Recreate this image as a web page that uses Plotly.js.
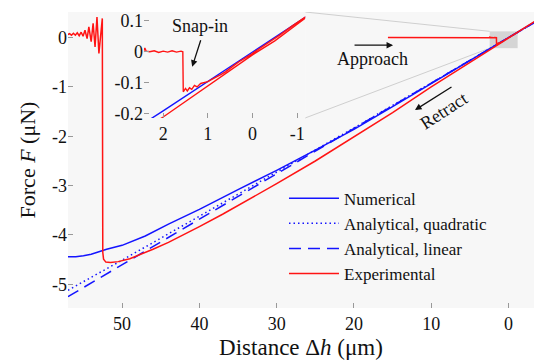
<!DOCTYPE html>
<html>
<head>
<meta charset="utf-8">
<script src="https://cdn.plot.ly/plotly-3.0.1.min.js"></script>
<style>html,body{margin:0;padding:0;background:#fff;}#chart{width:534px;height:361px;}</style>
</head>
<body>
<div id="chart"></div>
<script>
// ---- Data ----
// Numerical model: distance (um) and force (uN)
const numX = [57, 56, 55, 54, 53, 52, 50, 47, 44, 40, 35, 30, 25, 20, 15, 10, 5, 2, 0, -1.18, -3.5];
const numF = [-4.44, -4.44, -4.42, -4.39, -4.34, -4.29, -4.21, -4.02, -3.78, -3.48, -3.08, -2.69, -2.28, -1.86, -1.40, -0.93, -0.47, -0.19, 0.0, 0.112, 0.33];
// Analytical, quadratic
const quadX = [57, 50, 40, 30, 20, 10, 0, -3.5];
const quadF = [-5.12, -4.51, -3.62, -2.73, -1.83, -0.92, 0, 0.32];
// Analytical, linear
const linX = [57, 50, 40, 30, 20, 10, 0, -3.5];
const linF = [-5.25, -4.61, -3.68, -2.76, -1.84, -0.92, 0, 0.32];
// Experimental: approach (flat, snap-in, loading) then retract (pull-off, ringing)
const expX = [15.6, 12, 8, 5, 3, 2.44, 2.41, 2.38, 2.3, 2.2, 2.1, 2.0, 1.9, 1.8, 1.7, 1.6, 1.56,
  1.55, 1.50, 1.46, 1.41, 1.36, 1.30, 1.24, 1.16, 1.08, 1.00, 0.9, 0.8, 0.7, 0.6, 0.5, 0.4, 0.3, 0.2, 0.06, -0.1, -0.3, -0.6, -0.9, -1.18, -2.0, -3.5,
  -2.0, -1.18, -0.5, 0, 1.0, 2.0, 3, 5, 10, 15, 20.5, 25, 30, 34, 37, 40, 42, 44, 46, 47.7, 49, 50.5, 51.5, 52.1, 52.4, 52.5,
  52.56, 53.0, 53.25, 53.5, 53.75, 54.0, 54.3, 54.53, 54.8, 55.05, 55.3, 55.55, 55.8, 56.05, 56.3, 56.55, 56.8, 57.1];
const expF = [0.005, 0.0, 0.003, 0.0, 0.002, 0.0, 0.012, 0.002, 0.0, 0.003, -0.002, 0.002, -0.001, 0.003, -0.001, 0.002, 0.0,
  -0.129, -0.118, -0.126, -0.116, -0.121, -0.108, -0.113, -0.102, -0.100, -0.096, -0.088, -0.081, -0.073, -0.064, -0.052, -0.042, -0.032, -0.024, -0.011, 0.005, 0.024, 0.053, 0.084, 0.112, 0.19, 0.34,
  0.185, 0.108, 0.035, -0.01, -0.11, -0.21, -0.30, -0.50, -1.00, -1.52, -2.06, -2.50, -2.96, -3.32, -3.58, -3.83, -3.99, -4.15, -4.29, -4.40, -4.48, -4.54, -4.56, -4.55, -4.49, -4.35,
  0.39, -0.32, 0.42, -0.19, 0.29, -0.08, 0.22, -0.02, 0.15, 0.03, 0.11, 0.04, 0.10, 0.05, 0.09, 0.05, 0.08, 0.06];

// Tick labels
const xTickVals = [50, 40, 30, 20, 10, 0];
const xTickText = ['50', '40', '30', '20', '10', '0'];
const yTickVals = [-5, -4, -3, -2, -1, 0];
const yTickText = ['-5', '-4', '-3', '-2', '-1', '0'];
const insetXTickVals = [2, 1, 0, -1];
const insetXTickText = ['2', '1', '0', '-1'];
const insetYTickVals = [-0.2, -0.1, 0, 0.1];
const insetYTickText = ['-0.2', '-0.1', '0', '0.1'];

// ---- Layout geometry ----
const FONT = 'Liberation Serif, Times New Roman, serif';
const BLUE = 'rgb(20,20,255)';
const RED = 'rgb(255,20,20)';
const xr = [57, -3.3], yr = [-5.48, 0.52];
const idx = [0.163, 0.509], idy = [0.642, 1.0];
const ixr = [2.43, -1.18], iyr = [-0.213, 0.128];
const toMainX = f => xr[0] + (xr[1] - xr[0]) * f;
const toMainY = f => yr[0] + (yr[1] - yr[0]) * f;

const traces = [
  {x: numX, y: numF, name: 'Numerical', mode: 'lines', line: {color: BLUE, width: 1.5}},
  {x: quadX, y: quadF, name: 'Analytical, quadratic', mode: 'lines', line: {color: BLUE, width: 1.5, dash: '1.5px,3px'}},
  {x: linX, y: linF, name: 'Analytical, linear', mode: 'lines', line: {color: BLUE, width: 1.5, dash: '12px,7px'}},
  {x: expX, y: expF, name: 'Experimental', mode: 'lines', line: {color: RED, width: 1.5}},
  {x: numX, y: numF, xaxis: 'x2', yaxis: 'y2', showlegend: false, mode: 'lines', line: {color: BLUE, width: 1.4}},
  {x: expX, y: expF, xaxis: 'x2', yaxis: 'y2', showlegend: false, mode: 'lines', line: {color: RED, width: 1.4}}
];

const tickFont = {family: FONT, size: 18, color: '#111'};
const layout = {
  width: 534, height: 361,
  margin: {l: 68, r: 0, t: 12, b: 53},
  paper_bgcolor: '#ffffff',
  plot_bgcolor: '#f7f7f7',
  showlegend: true,
  font: {family: FONT, size: 18, color: '#111'},
  xaxis: {
    range: xr, tickvals: xTickVals, ticktext: xTickText, ticks: 'inside', ticklen: 5, tickcolor: '#999',
    showgrid: false, zeroline: false, showline: false, tickfont: tickFont, ticklabelstandoff: 3,
    title: {text: 'Distance Δ<i>h</i> (μm)', font: {family: FONT, size: 23, color: '#111'}, standoff: 5}
  },
  yaxis: {
    range: yr, tickvals: yTickVals, ticktext: yTickText, ticks: 'inside', ticklen: 5, tickcolor: '#999',
    showgrid: false, zeroline: false, showline: false, tickfont: tickFont,
    title: {text: 'Force <i>F</i> (μN)', font: {family: FONT, size: 22, color: '#111'}, standoff: 10}
  },
  xaxis2: {
    domain: idx, anchor: 'y2', range: ixr, tickvals: insetXTickVals, ticktext: insetXTickText,
    ticks: 'inside', ticklen: 5, tickcolor: '#999', showgrid: false, zeroline: false, showline: false, tickfont: tickFont,
    ticklabelstandoff: 3
  },
  yaxis2: {
    domain: idy, anchor: 'x2', range: iyr, tickvals: insetYTickVals, ticktext: insetYTickText,
    ticks: 'inside', ticklen: 5, tickcolor: '#999', showgrid: false, zeroline: false, showline: false, tickfont: tickFont
  },
  legend: {
    x: 0.4635, y: 0.43, xanchor: 'left', yanchor: 'top', bgcolor: 'rgba(0,0,0,0)',
    font: {family: FONT, size: 17, color: '#111'}, itemwidth: 50, tracegroupgap: 0
  },
  shapes: [
    {type: 'rect', xref: 'x2 domain', yref: 'y2 domain', x0: 0, x1: 1, y0: 0, y1: 1, fillcolor: '#ffffff', line: {width: 0}, layer: 'below'},
    {type: 'rect', xref: 'x', yref: 'y', x0: ixr[0], x1: ixr[1], y0: iyr[0], y1: iyr[1], fillcolor: 'rgba(150,150,150,0.35)', line: {width: 0}, layer: 'below'},
    {type: 'line', xref: 'x', yref: 'y', x0: toMainX(idx[1]), y0: toMainY(idy[1]), x1: ixr[0], y1: iyr[1], line: {color: '#cfcfcf', width: 1}, layer: 'below'},
    {type: 'line', xref: 'x', yref: 'y', x0: toMainX(idx[1]), y0: toMainY(idy[0]), x1: ixr[0], y1: iyr[0], line: {color: '#cfcfcf', width: 1}, layer: 'below'}
  ],
  annotations: [
    {xref: 'x', yref: 'y', x: 14.94, y: -0.152, ax: -40, ay: 0, text: '', showarrow: true, arrowhead: 2, arrowsize: 1, arrowwidth: 1.3, arrowcolor: '#111'},
    {xref: 'x', yref: 'y', x: 17.6, y: -0.435, text: 'Approach', showarrow: false, font: {family: FONT, size: 18, color: '#111'}},
    {xref: 'x', yref: 'y', x: 12.1, y: -1.468, ax: 38, ay: -24, text: '', showarrow: true, arrowhead: 2, arrowsize: 1, arrowwidth: 1.3, arrowcolor: '#111'},
    {xref: 'x', yref: 'y', x: 8.4, y: -1.49, text: 'Retract', textangle: -33, showarrow: false, font: {family: FONT, size: 18, color: '#111'}},
    {xref: 'x2', yref: 'y2', x: 1.35, y: -0.048, ax: 9, ay: -28, text: '', showarrow: true, arrowhead: 2, arrowsize: 1, arrowwidth: 1.3, arrowcolor: '#111'},
    {xref: 'x2', yref: 'y2', x: 1.17, y: 0.083, text: 'Snap-in', showarrow: false, font: {family: FONT, size: 18, color: '#111'}}
  ]
};

Plotly.newPlot('chart', traces, layout, {displayModeBar: false, staticPlot: true});
</script>
</body>
</html>
